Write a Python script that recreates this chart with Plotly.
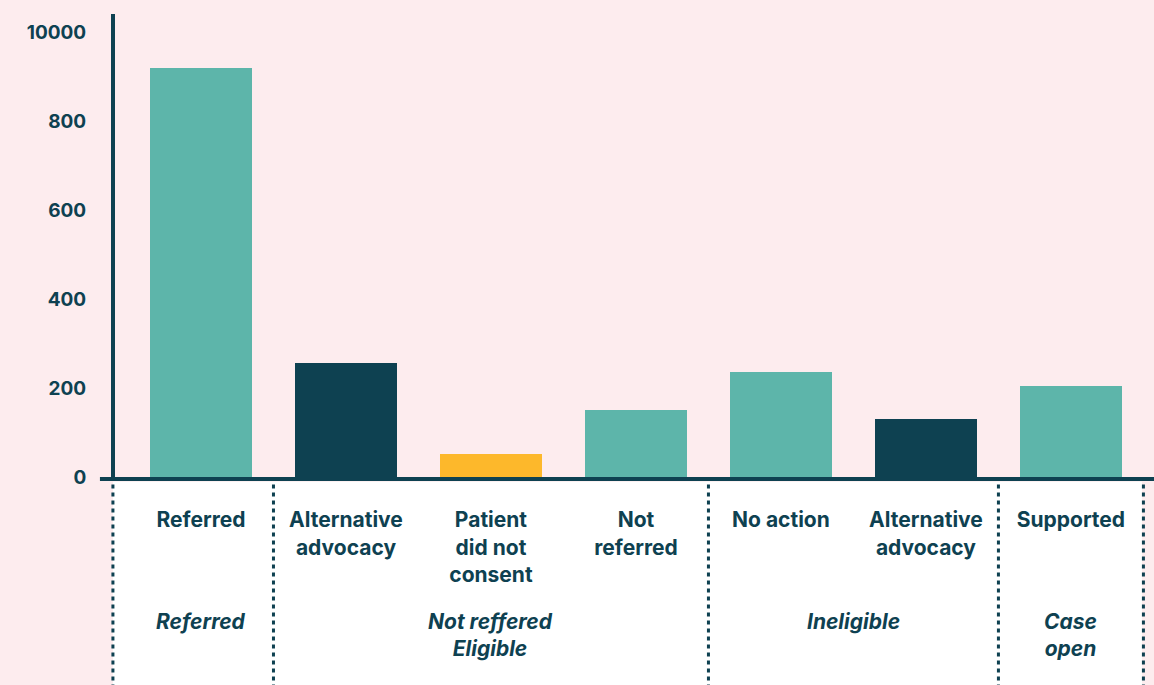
import plotly.graph_objects as go

# ---- data ----
categories = ["Referred", "Alternative<br>advocacy", "Patient<br>did not<br>consent",
              "Not<br>referred", "No action", "Alternative<br>advocacy", "Supported"]
values = [920, 257, 52, 151, 236, 131, 205]
bar_colors = ["#5db5aa", "#0e4151", "#fdb82b", "#5db5aa", "#5db5aa", "#0e4151", "#5db5aa"]
groups = ["Referred", "Not reffered<br>Eligible", "Ineligible", "Case<br>open"]
group_members = [[0], [1, 2, 3], [4, 5], [6]]
y_tickvals = [0, 200, 400, 600, 800, 1000]
y_ticktext = ["0", "200", "400", "600", "800", "10000"]

DARK = "#0e4151"
PINK = "#fdecee"
FONT = "Inter"

xs = list(range(len(categories)))
xmin, xmax = -0.593, 6.573

fig = go.Figure()
fig.add_trace(go.Bar(x=xs, y=values, marker=dict(color=bar_colors, line=dict(width=0)),
                     width=0.703, hoverinfo="skip"))

shapes = []
# white area below axis (from the y axis to the last separator)
shapes.append(dict(type="rect", xref="paper", yref="paper", x0=-0.002, x1=0.9885,
                   y0=-0.01, y1=-0.5, fillcolor="white", line=dict(width=0), layer="below"))
# dotted separators
shapes.append(dict(type="line", xref="paper", yref="paper", x0=-0.002, x1=-0.002, y0=-0.016, y1=-0.5,
                   line=dict(color=DARK, width=3, dash="4px,4px")))
for g in group_members:
    b = g[-1] + 0.5
    shapes.append(dict(type="line", xref="x", yref="paper", x0=b, x1=b, y0=-0.016, y1=-0.5,
                       line=dict(color=DARK, width=3, dash="4px,4px")))
# small extension of x-axis line left of the y axis
shapes.append(dict(type="line", xref="paper", yref="paper", x0=-0.0145, x1=0.0, y0=-0.0043, y1=-0.0043,
                   line=dict(color=DARK, width=4)))

annotations = []
for name, mem in zip(groups, group_members):
    cx = (mem[0] + mem[-1]) / 2
    annotations.append(dict(x=cx, xref="x", y=0, yref="paper", yanchor="top", yshift=-130,
                            text="<i>" + name + "</i>", showarrow=False,
                            font=dict(family=FONT, size=21, color=DARK, weight="bold")))

fig.update_layout(
    width=1154, height=685,
    margin=dict(l=115, r=0, t=14, b=208),
    paper_bgcolor=PINK, plot_bgcolor=PINK,
    showlegend=False,
    bargap=0,
    shapes=shapes, annotations=annotations,
    font=dict(family=FONT, color=DARK, size=21, weight="bold"),
    xaxis=dict(range=[xmin, xmax], tickvals=xs, ticktext=categories, showgrid=False,
               zeroline=False, showline=True, linewidth=4, linecolor=DARK, ticks="",
               ticklabelstandoff=21, tickfont=dict(family=FONT, size=21, color=DARK, weight="bold")),
    yaxis=dict(range=[0, 1042], tickvals=y_tickvals, ticktext=y_ticktext, showgrid=False,
               zeroline=False, showline=True, linewidth=4, linecolor=DARK, ticks="",
               ticklabelstandoff=21, tickfont=dict(family=FONT, size=19, color=DARK, weight="bold")),
)

fig.write_html("out.html")
